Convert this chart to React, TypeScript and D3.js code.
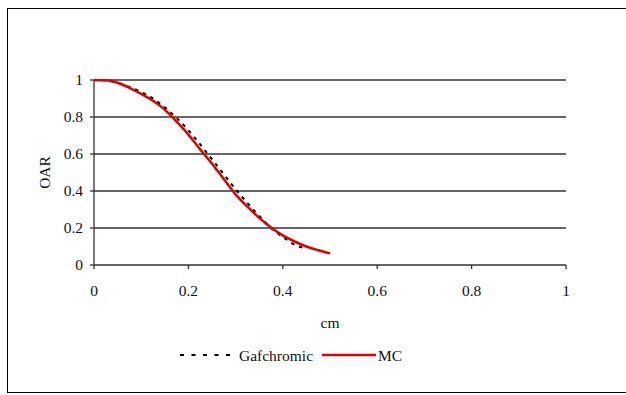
import React from "react";
import * as d3 from "d3";

const xTicks = [0, 0.2, 0.4, 0.6, 0.8, 1];
const yTicks = [0, 0.2, 0.4, 0.6, 0.8, 1];

const mcX = [0, 0.025, 0.05, 0.075, 0.1, 0.125, 0.15, 0.175, 0.2, 0.225, 0.25, 0.275, 0.3, 0.325, 0.35, 0.375, 0.4, 0.425, 0.45, 0.475, 0.5];
const mcY = [1, 0.998, 0.985, 0.958, 0.925, 0.888, 0.84, 0.775, 0.705, 0.625, 0.548, 0.465, 0.382, 0.315, 0.255, 0.203, 0.16, 0.127, 0.1, 0.08, 0.063];

const gafX = [0, 0.025, 0.05, 0.075, 0.1, 0.125, 0.15, 0.175, 0.2, 0.225, 0.25, 0.275, 0.3, 0.325, 0.35, 0.375, 0.4, 0.425, 0.45];
const gafY = [1, 0.997, 0.985, 0.962, 0.935, 0.9, 0.852, 0.795, 0.728, 0.652, 0.572, 0.49, 0.41, 0.335, 0.265, 0.2, 0.152, 0.11, 0.088];

const FONT = "Liberation Serif, DejaVu Serif, serif";
const ts: React.CSSProperties = { fontFamily: FONT, fontSize: "15.5px" };

export default function App() {
  const W = 626, H = 395;
  const x = d3.scaleLinear().domain([0, 1]).range([94, 566]);
  const y = d3.scaleLinear().domain([0, 1]).range([265, 80]);
  const line = d3.line<[number, number]>().x(d => x(d[0])).y(d => y(d[1])).curve(d3.curveMonotoneX);
  const mc = line(mcX.map((v, i) => [v, mcY[i]] as [number, number])) || "";
  const gaf = line(gafX.map((v, i) => [v, gafY[i]] as [number, number])) || "";

  return (
    <svg width={W} height={H} style={{ position: "absolute", left: 0, top: 0 }}>
      <rect x={0} y={0} width={W} height={H} fill="#fff" />
      <rect x={7.5} y={8.5} width={640} height={384} fill="none" stroke="#000" strokeWidth={1} />
      {yTicks.filter(t => t > 0).map(t => (
        <line key={"g" + t} x1={x(0)} x2={x(1)} y1={y(t)} y2={y(t)} stroke="#333" strokeWidth={1.3} />
      ))}
      <line x1={x(0)} x2={x(0)} y1={y(0)} y2={y(1)} stroke="#333" strokeWidth={1.3} />
      <line x1={x(0)} x2={x(1)} y1={y(0)} y2={y(0)} stroke="#333" strokeWidth={1.3} />
      {yTicks.map(t => (
        <g key={"y" + t}>
          <line x1={x(0) - 4} x2={x(0)} y1={y(t)} y2={y(t)} stroke="#333" strokeWidth={1.3} />
          <text x={83} y={y(t)} dy="0.35em" textAnchor="end" style={ts} fill="#111">{t}</text>
        </g>
      ))}
      {xTicks.map(t => (
        <g key={"x" + t}>
          <line x1={x(t)} x2={x(t)} y1={y(0)} y2={y(0) + 4} stroke="#333" strokeWidth={1.3} />
          <text x={x(t)} y={296} textAnchor="middle" style={ts} fill="#111">{t}</text>
        </g>
      ))}
      <text x={330} y={328} textAnchor="middle" style={ts} fill="#111">cm</text>
      <text transform={`translate(50,${(y(0) + y(1)) / 2}) rotate(-90)`} textAnchor="middle" style={ts} fill="#111">OAR</text>
      <path d={gaf} fill="none" stroke="#000" strokeWidth={2} strokeDasharray="3.5,5" />
      <path d={mc} fill="none" stroke="#e00000" strokeWidth={2.5} />
      <line x1={180} x2={230} y1={355} y2={355} stroke="#000" strokeWidth={2} strokeDasharray="4,7.5" />
      <text x={239} y={361} style={ts} fill="#111">Gafchromic</text>
      <line x1={322} x2={376} y1={355} y2={355} stroke="#e00000" strokeWidth={2.5} />
      <text x={378} y={361} style={ts} fill="#111">MC</text>
    </svg>
  );
}
